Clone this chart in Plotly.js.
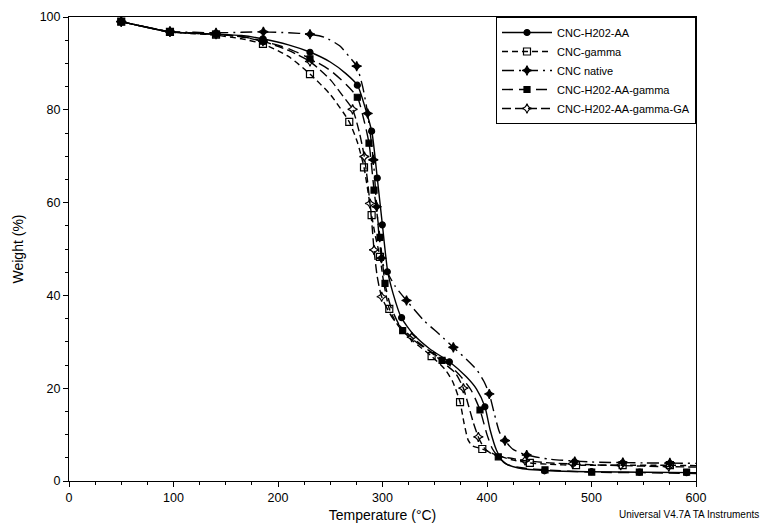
<!DOCTYPE html>
<html>
<head>
<meta charset="utf-8">
<script src="https://cdn.plot.ly/plotly-3.0.1.min.js"></script>
<style>html,body{margin:0;padding:0;background:#fff;}#chart{width:761px;height:523px;}</style>
</head>
<body>
<div id="chart"></div>
<script>
// ---- Data (Temperature °C, Weight %) ----
const seriesNames = ["CNC-H202-AA", "CNC-gamma", "CNC native", "CNC-H202-AA-gamma", "CNC-H202-AA-gamma-GA"];

// CNC-H202-AA (solid, circles)
const aaT = [50,70,96,120,140,165,185,210,231,250,265,276,284,290,295,300,305,310,318,330,345,364,380,390,398,403,409,416,430,460,500,550,600];
const aaW = [99,98,96.8,96.5,96.3,96,95.3,94,92.4,90.3,87.8,85.3,80,75,65.3,55,45.1,40.5,35.2,31.5,28.5,25.7,22.5,19.8,16,11,6.7,4,2.8,2.2,2,1.9,1.8];
const aaMT = [50,96.6,140.7,185.6,230.6,275.9,289.6,295,299.8,304.6,318.3,364,398,455,500,546,591];
const aaMW = [99,96.8,96.3,95.3,92.4,85.3,75.4,65.3,55.2,45.1,35.2,25.7,16,2.2,2,1.9,1.8];

// CNC-gamma (dashed, open squares)
const gT = [50,70,96,120,140,165,185.6,210,230.6,250,268.2,276,282.3,286,289.6,293,297.6,301,306.5,315,330,347,360,367,374.2,378,382,386,395.5,410,425,441,460,485,530,575,600];
const gW = [99,98,96.8,96.4,96.1,95.3,94.2,91.5,87.7,83.3,77.4,73,67.6,62.5,57.3,53,48.3,43,37.1,33.5,30,26.9,24,21.5,17,12.5,8.8,7.6,6.9,5.5,4.5,3.9,3.6,3.4,3.4,3.4,3.3];
const gMT = [50,96.6,140.7,185.6,230.6,268.2,282.3,289.6,297.6,306.5,347,374.2,395.5,441,485.2,529.8,575];
const gMW = [99,96.8,96.2,94.2,87.7,77.4,67.6,57.3,48.3,37.1,26.9,17,6.9,3.9,3.4,3.4,3.4];

// CNC native (dash-dot, stars)
const nT = [50,70,96,120,140,165,186,210,230.6,245,259,268,275.3,281,285.8,291.2,294.4,297,300,305,312,323,340,355,367.8,380,390,397,402.2,407,412,417.2,425,438,460,500,550,600];
const nW = [99,98,96.9,96.7,96.6,96.7,96.8,96.6,96.3,95.6,93.8,91.5,89.4,85,79.2,69.2,59.1,52,47,44.8,42,38.9,34.5,31.5,28.8,26.3,24,21.5,18.75,14.5,10.5,8.7,6.8,5.6,4.7,4.1,3.9,3.8];
const nMT = [50,96.6,140.7,186,230.6,275.3,285.8,291.2,294.4,299,323,367.8,402.2,417.2,438,484,530,575];
const nMW = [99,96.9,96.6,96.8,96.3,89.4,79.2,69.2,59.1,48,38.9,28.8,18.75,8.7,5.6,4.2,4,3.9];

// CNC-H202-AA-gamma (long dash, filled squares)
const agT = [50,70,96,120,140,165,185,210,231,250,265,276,282,287.1,291.9,297.6,302.4,308,319.3,335,350,364,375,385,393.3,400,405,410.8,420,435,455.5,500,550,600];
const agW = [99,98,96.8,96.5,96.3,95.8,94.8,93.2,91,88.5,85.5,82.7,78,72.8,62.7,52.5,42.6,37.5,32.4,29.5,27.3,25,22.5,19.5,15.3,10,7,5.2,3.5,2.8,2.4,1.9,1.8,1.6];
const agMT = [50,96.6,140.7,185.6,230.6,275.9,287.1,291.9,297.6,302.4,319.3,357,393.3,410.8,455.5,500.2,545.8,591];
const agMW = [99,96.8,96.3,94.8,91,82.7,72.8,62.7,52.5,42.6,32.4,26,15.3,5.2,2.4,1.9,1.9,1.9];

// CNC-H202-AA-gamma-GA (dashed, open 4-point stars)
const gaT = [50,70,96,120,140,165,185,210,230.6,250,262,271.4,278,282.6,285.5,288,290,291.9,295,299.2,310,328,345,360,370,377.4,382,387,391.7,397,405,420,436.4,460,500,550,600];
const gaW = [99,98,96.8,96.5,96.3,95.7,94.8,92.8,90.4,86.5,83,80.1,75,69.9,65,59.8,55,49.8,44,39.7,35,31,28,25.2,23.2,20,16.5,12.5,9.5,7.2,5.8,5,4.4,3.9,3.5,3.2,3];
const gaMT = [50,96.6,140.7,185.6,230.6,271.4,282.6,288,291.9,299.2,328,377.4,391.7,436.4,482,528,574];
const gaMW = [99,96.8,96.3,94.8,90.4,80.1,69.9,59.8,49.8,39.7,31,20,9.5,4.4,3.7,3.4,3.1];

const xTicks = [0,100,200,300,400,500,600];
const yTicks = [0,20,40,60,80,100];

// ---- Styles ----
const styles = [
  {T: aaT, W: aaW, MT: aaMT, MW: aaMW, dash: "solid", sym: "circle", size: 6},
  {T: gT, W: gW, MT: gMT, MW: gMW, dash: "6px,4px", sym: "square-open", size: 7},
  {T: nT, W: nW, MT: nMT, MW: nMW, dash: "12px,5px,2px,5px", sym: "star-diamond", size: 7},
  {T: agT, W: agW, MT: agMT, MW: agMW, dash: "11px,6px", sym: "square", size: 6},
  {T: gaT, W: gaW, MT: gaMT, MW: gaMW, dash: "9px,4px", sym: "star-diamond-open", size: 7}
];

const traces = [];
styles.forEach((s, i) => {
  traces.push({
    x: s.T, y: s.W, type: "scatter", mode: "lines",
    line: {color: "#000", width: 1.4, dash: s.dash, shape: "spline", smoothing: 0.6},
    showlegend: false, hoverinfo: "skip"
  });
  traces.push({
    x: s.MT, y: s.MW, type: "scatter", mode: "markers",
    marker: {symbol: s.sym, size: s.size, color: "#000", line: {color: "#000", width: 1.2}},
    showlegend: false
  });
});
styles.forEach((s, i) => {
  traces.push({
    x: [null], y: [null], type: "scatter", mode: "lines+markers", name: seriesNames[i],
    line: {color: "#000", width: 1.4, dash: s.dash},
    marker: {symbol: s.sym, size: s.size, color: "#000", line: {color: "#000", width: 1.2}}
  });
});

const font = "Liberation Sans, Arial, sans-serif";
const layout = {
  width: 761, height: 523,
  margin: {l: 69, r: 65, t: 17, b: 42},
  paper_bgcolor: "#fff", plot_bgcolor: "#fff",
  font: {family: font, color: "#000", size: 12},
  xaxis: {
    range: [0, 600], tickvals: xTicks, ticktext: xTicks.map(String),
    showgrid: false, zeroline: false, showline: true, linecolor: "#000", linewidth: 1, mirror: true,
    ticks: "outside", ticklen: 5, tickcolor: "#000",
    minor: {dtick: 25, ticks: "outside", ticklen: 3, tickcolor: "#000"},
    tickfont: {size: 12.5, family: font},
    title: {text: "Temperature (°C)", font: {size: 14, family: font}, standoff: 6}
  },
  yaxis: {
    range: [0, 100], tickvals: yTicks, ticktext: yTicks.map(String),
    showgrid: false, zeroline: false, showline: true, linecolor: "#000", linewidth: 1, mirror: true,
    ticks: "outside", ticklen: 5, tickcolor: "#000",
    minor: {dtick: 5, ticks: "outside", ticklen: 3, tickcolor: "#000"},
    tickfont: {size: 12.5, family: font},
    title: {text: "Weight (%)", font: {size: 14, family: font}, standoff: 12}
  },
  legend: {
    x: 1, xanchor: "right", y: 1, yanchor: "top",
    bordercolor: "#000", borderwidth: 1, bgcolor: "#fff",
    font: {size: 11, family: font}, itemwidth: 50, tracegroupgap: 0
  },
  annotations: [{
    text: "Universal V4.7A TA Instruments", xref: "paper", yref: "paper",
    x: 1.104, xanchor: "right", y: -0.073, yanchor: "middle",
    showarrow: false, font: {size: 10, family: font}
  }]
};

Plotly.newPlot("chart", traces, layout, {displayModeBar: false, staticPlot: true});
</script>
</body>
</html>
